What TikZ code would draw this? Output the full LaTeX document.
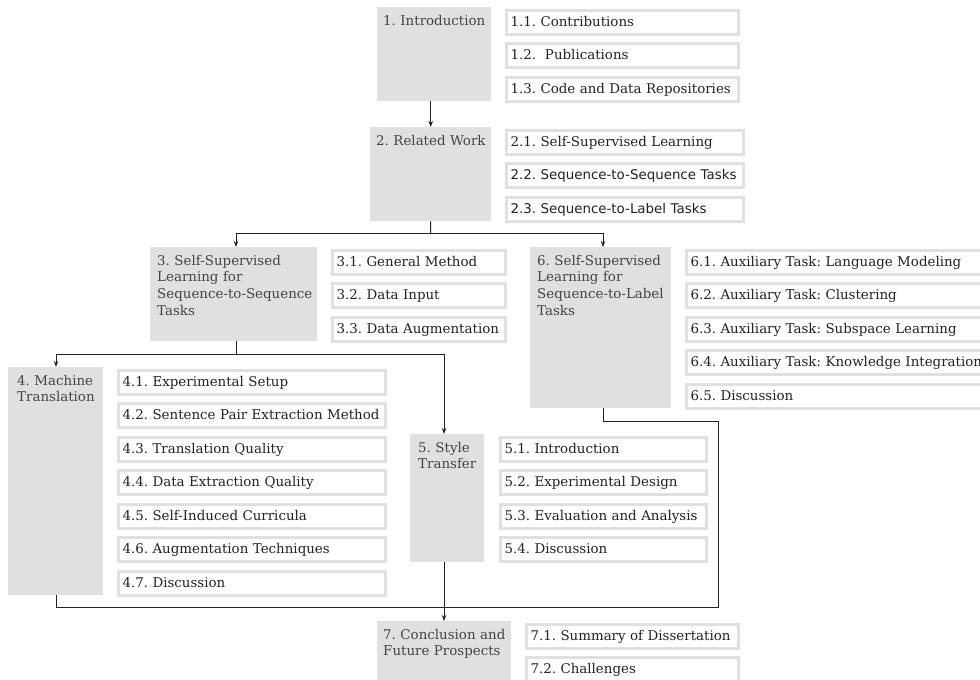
\documentclass[tikz,border=0pt]{standalone}
\usepackage{fontspec}
\setmainfont{DejaVu Serif}
\newfontfamily\dvsans{DejaVu Sans}
\usetikzlibrary{arrows.meta,calc}
\frenchspacing
\definecolor{boxgray}{HTML}{E0E0E0}
\definecolor{maintxt}{HTML}{444444}
\definecolor{subtxt}{HTML}{222222}
\definecolor{linec}{HTML}{222222}
\tikzset{
  mainbox/.style={fill=boxgray, draw=none, anchor=north west, inner sep=0pt},
  maintext/.style={text=maintxt, anchor=base west, inner sep=0pt, align=left, text width=#1,
    font=\fontsize{13.4}{16.7}\selectfont},
  subbox/.style={draw=boxgray, line width=3pt, fill=white, anchor=north west,
    inner xsep=4.5pt, inner ysep=0pt, minimum height=24pt, text height=10pt, text depth=2pt,
    align=left, text=subtxt, font=\fontsize{13.4}{16.7}\selectfont},
  cw/.style={minimum width={#1-3}, text width={#1-12}},
  conn/.style={draw=linec, line width=1pt},
  arr/.style={conn, -{Stealth[length=6pt,width=4.5pt]}}
}
\begin{document}
\begin{tikzpicture}[x=1pt,y=-1pt]
\useasboundingbox (0,0) rectangle (980,680);
\clip (0,0) rectangle (980,680);

% main boxes
\node[mainbox, minimum width=114, minimum height=94] (n1) at (377,7) {};
\node[mainbox, minimum width=121, minimum height=94] (n2) at (370,127) {};
\node[mainbox, minimum width=167, minimum height=94] (n3) at (150,247) {};
\node[mainbox, minimum width=141, minimum height=161] (n6) at (530,247) {};
\node[mainbox, minimum width=95, minimum height=228] (n4) at (8,367) {};
\node[mainbox, minimum width=74, minimum height=127.5] (n5) at (410,434) {};
\node[mainbox, minimum width=134, minimum height=70] (n7) at (377,621) {};

% main texts
\node[maintext=110pt] (t1) at ($(n1.north west)+(6,18)$) {1. Introduction};
\node[maintext=118pt] (t2) at ($(n2.north west)+(6,18)$) {2. Related Work};
\node[maintext=165pt] (t3) at ($(n3.north west)+(7,18)$) {3. Self-Supervised\\Learning for\\Sequence-to-Sequence\\Tasks};
\node[maintext=140pt] (t6) at ($(n6.north west)+(7,18)$) {6. Self-Supervised\\Learning for\\Sequence-to-Label\\Tasks};
\node[maintext=94pt] (t4) at ($(n4.north west)+(9,18)$) {4. Machine\\Translation};
\node[maintext=74pt] (t5) at ($(n5.north west)+(8,18)$) {5. Style\\Transfer};
\node[maintext=134pt] (t7) at ($(n7.north west)+(6,18)$) {7. Conclusion and\\Future Prospects};

% 1.x
\node[subbox, cw=235] (s11) at (504.5,8.5) {1.1. Contributions};
\node[subbox, cw=235] (s12) at (504.5,42) {1.2.\ \ Publications};
\node[subbox, cw=235] (s13) at (504.5,75.5) {1.3. Code and Data Repositories};
% 2.x
\node[subbox, cw=240] (s21) at (504.5,128.5) {2.1. Self-Supervised Learning};
\node[subbox, cw=240] (s22) at (504.5,162) {\dvsans 2.2. Sequence-to-Sequence Tasks};
\node[subbox, cw=240] (s23) at (504.5,195.5) {\dvsans 2.3. Sequence-to-Label Tasks};
% 3.x
\node[subbox, cw=176] (s31) at (330.5,248.5) {3.1. General Method};
\node[subbox, cw=176] (s32) at (330.5,282) {3.2. Data Input};
\node[subbox, cw=176] (s33) at (330.5,315.5) {3.3. Data Augmentation};
% 6.x
\node[subbox, cw=312] (s61) at (684.5,248.5) {6.1. Auxiliary Task: Language Modeling};
\node[subbox, cw=312] (s62) at (684.5,282) {6.2. Auxiliary Task: Clustering};
\node[subbox, cw=312] (s63) at (684.5,315.5) {6.3. Auxiliary Task: Subspace Learning};
\node[subbox, cw=312] (s64) at (684.5,349) {6.4. Auxiliary Task: Knowledge Integration};
\node[subbox, cw=312] (s65) at (684.5,382.5) {6.5. Discussion};
% 4.x
\node[subbox, cw=270] (s41) at (116.5,368.5) {4.1. Experimental Setup};
\node[subbox, cw=270] (s42) at (116.5,402) {4.2. Sentence Pair Extraction Method};
\node[subbox, cw=270] (s43) at (116.5,435.5) {4.3. Translation Quality};
\node[subbox, cw=270] (s44) at (116.5,469) {4.4. Data Extraction Quality};
\node[subbox, cw=270] (s45) at (116.5,502.5) {4.5. Self-Induced Curricula};
\node[subbox, cw=270] (s46) at (116.5,536) {4.6. Augmentation Techniques};
\node[subbox, cw=270] (s47) at (116.5,569.5) {4.7. Discussion};
% 5.x
\node[subbox, cw=209] (s51) at (498.5,435.5) {5.1. Introduction};
\node[subbox, cw=209] (s52) at (498.5,469) {5.2. Experimental Design};
\node[subbox, cw=209] (s53) at (498.5,502.5) {5.3. Evaluation and Analysis};
\node[subbox, cw=209] (s54) at (498.5,536) {5.4. Discussion};
% 7.x
\node[subbox, cw=215] (s71) at (524.5,622.5) {7.1. Summary of Dissertation};
\node[subbox, cw=215] (s72) at (524.5,656) {7.2. Challenges};

% connector junctions
\coordinate (j2) at (430.5,233);
\coordinate (j3) at (236,354);
\coordinate (in3) at (236,247);
\coordinate (in6) at (603,247);
\coordinate (out3) at (236,341);
\coordinate (in4) at (56,367);
\coordinate (out4) at (56,595);
\coordinate (in5) at (444,434);
\coordinate (out5) at (444,561.5);
\coordinate (in7) at (444,621);
\coordinate (out6) at (603,408);
\coordinate (r1) at (718,421);
\coordinate (r2) at (718,607.5);
\coordinate (l2) at (56,607.5);

\draw[arr] (n2.north |- n1.south) -- (n2.north);
\draw[conn] (n2.south) -- (j2);
\draw[arr] (j2) -| (in3);
\draw[arr] (j2) -| (in6);
\draw[conn] (out3) -- (j3);
\draw[arr] (j3) -| (in4);
\draw[arr] (j3) -| (in5);
\draw[conn] (out4) -- (l2) -- (r2) -- (r1) -| (out6);
\draw[arr] (out5) -- (in7);
\end{tikzpicture}
\end{document}
